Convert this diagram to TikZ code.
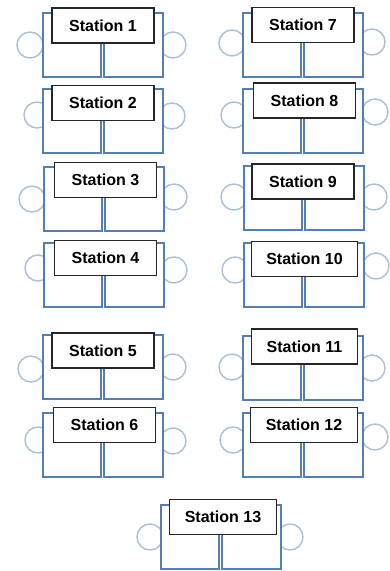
\documentclass[tikz,border=0pt]{standalone}
\usepackage{fontspec}
\setmainfont{Liberation Sans}
\usepackage{tikz}
\usetikzlibrary{calc}
\definecolor{deskblue}{HTML}{5280B2}
\definecolor{chairblue}{HTML}{A8C0D9}

\begin{document}
\begin{tikzpicture}[x=1pt, y=-1pt,
	desk/.style={draw=deskblue, line width=2pt, fill=white},
	chair/.style={circle, draw=chairblue, line width=1.4pt, fill=white, minimum size=26pt, inner sep=0pt},
	tag/.style={draw=black!85, line width=1.1pt, fill=white, minimum height=35pt, minimum width=102pt, inner xsep=15pt, font=\fontsize{16}{16}\selectfont\bfseries}]

	\useasboundingbox (0,0) rectangle (390,571);

	% station / desk corner / label centre / left chair / right chair
	\foreach \n/\L/\T/\lx/\ly/\ax/\ay/\bx/\by in {
		1/43/13/103/25.5/30/45/173/45,
		2/43/89/103/103/37/115/172/116,
		3/44/167/105.5/180/32/199/174/197,
		4/44/243/105.5/258/38/268/174/270,
		5/43/335/103/350.5/31/369/173/367,
		6/43/413/104.5/425/38/440/173/441,
		7/243/13/303/25/232/43/372/42,
		8/243/89/304.5/100.5/234/115/375/112,
		9/244/166/303/181.5/234/197/374/197,
		10/244/243/304.5/259/235/270/376/266,
		11/243/336/304.5/346.5/232/367/372/368,
		12/243/413/304/425/233/440/375/437,
		13/161/505/223/517/150/537/290/537}{
		\node[chair] (cl\n) at (\ax,\ay) {};
		\node[chair] (cr\n) at (\bx,\by) {};
		\coordinate (d\n) at (\L,\T);
		\draw[desk] (d\n) rectangle ++(58,64);
		\draw[desk] ($ (d\n)+(61,0) $) rectangle ++(59,64);
		\node[tag] (st\n) at (\lx,\ly) {Station \n};
	}

\end{tikzpicture}
\end{document}
